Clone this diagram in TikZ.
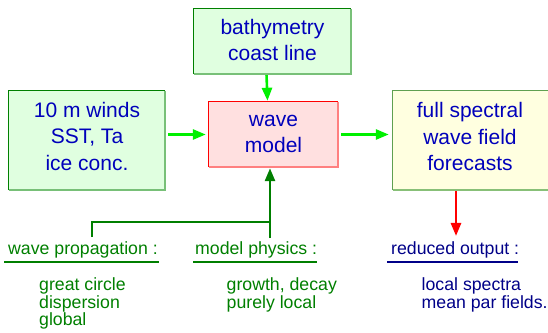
\documentclass[tikz,border=0pt]{standalone}
\usepackage{fontspec}
\setmainfont{Liberation Sans}
\usetikzlibrary{arrows.meta}
\definecolor{boxblue}{HTML}{0000BB}
\definecolor{dkgreen}{HTML}{007F00}
\definecolor{navyblue}{HTML}{000088}
\definecolor{brgreen}{HTML}{00F000}
\definecolor{gfill}{HTML}{E0FFE0}
\definecolor{gdark}{HTML}{008000}
\definecolor{glight}{HTML}{78C078}
\definecolor{pfill}{HTML}{FFE0E0}
\definecolor{rdark}{HTML}{FF0000}
\definecolor{rlight}{HTML}{FF8080}
\definecolor{yfill}{HTML}{FFFFE0}
\definecolor{ydark}{HTML}{60A050}
\definecolor{ylight}{HTML}{88C078}
\newcommand\bevelbox[3]{%
  \draw[#3,line width=2pt] (#1.north east) -- (#1.south east) -- (#1.south west);
  \draw[#2,line width=1pt] (#1.south west) -- (#1.north west) -- (#1.north east);}
\tikzset{
  boxshape/.style={rectangle,inner sep=0pt},
  boxtext/.style={align=center,text=boxblue,inner sep=0pt,
    font=\fontsize{21}{26.5}\selectfont},
  lbl/.style={anchor=base west,inner sep=0pt,font=\fontsize{17.7}{17.7}\selectfont},
  lst/.style={anchor=north west,align=left,inner sep=0pt,font=\fontsize{17.7}{17.7}\selectfont},
  arr/.style={line width=2.6pt,-{Triangle[length=13pt,width=10pt]}},
}
\begin{document}
\begin{tikzpicture}[x=1pt,y=-1pt]
\useasboundingbox (0,0) rectangle (548,332);
% boxes
\node[boxshape,fill=gfill,minimum width=156pt,minimum height=99pt] (winds) at (87,140.5) {};
\bevelbox{winds}{gdark}{glight}
\node[boxtext] (windsT) at (87,136) {10 m winds\\SST, Ta\\ice conc.};
\node[boxshape,fill=gfill,minimum width=157pt,minimum height=65pt] (bathy) at (272.5,41.5) {};
\bevelbox{bathy}{gdark}{glight}
\node[boxtext] (bathyT) at (272.5,40) {bathymetry\\coast line};
\node[boxshape,fill=pfill,minimum width=129pt,minimum height=65pt] (model) at (273.5,134.5) {};
\bevelbox{model}{rdark}{rlight}
\node[boxtext] (modelT) at (273.5,134) {wave\\model};
\node[boxshape,fill=yfill,minimum width=157pt,minimum height=99pt] (fcst) at (471.5,140.5) {};
\bevelbox{fcst}{ydark}{ylight}
\node[boxtext] (fcstT) at (470,136.5) {full spectral\\wave field\\forecasts};
% arrows between boxes
\draw[arr,brgreen,shorten <=1pt,shorten >=1pt] ([xshift=-6pt]bathy.south) -- ([xshift=-6pt]model.north);
\draw[arr,brgreen,shorten <=3pt,shorten >=3pt] (winds.east |- model.west) -- (model.west);
\draw[arr,brgreen,shorten <=3pt,shorten >=4pt] (model.east) -- (fcst.west |- model.east);
% bottom labels
\node[lbl,text=dkgreen] (wp) at (8,254) {wave propagation :};
\node[lbl,text=dkgreen] (mp) at (195,254) {model physics :};
\node[lbl,text=navyblue] (ro) at (391,254) {reduced output :};
\draw[dkgreen,line width=1.3pt] (4,262) -- (159,262);
\draw[dkgreen,line width=1.3pt] (193,262) -- (317,262);
\draw[navyblue,line width=1.3pt] (387,262) -- (518,262);
\node[lst,text=dkgreen] (wpl) at (39,277.5) {great circle\\dispersion\\global};
\node[lst,text=dkgreen] (mpl) at (226.5,277.5) {growth, decay\\purely local};
\node[lst,text=navyblue] (rol) at (421.5,277.5) {local spectra\\mean par fields.};
% connectors to bottom
\coordinate (wpTop) at (92,237);
\coordinate (mpTop) at (270,238);
\coordinate (joint) at (270,222);
\draw[arr,red,shorten <=1pt,shorten >=5pt] ([xshift=-15.5pt]fcst.south) -- ([xshift=-15.5pt]fcst.south |- ro.north);
\draw[dkgreen,line width=2.6pt] (wpTop) -- (wpTop |- joint) -- (joint);
\draw[arr,dkgreen,shorten >=1pt] (mpTop) -- (mpTop |- model.south);
\end{tikzpicture}
\end{document}
